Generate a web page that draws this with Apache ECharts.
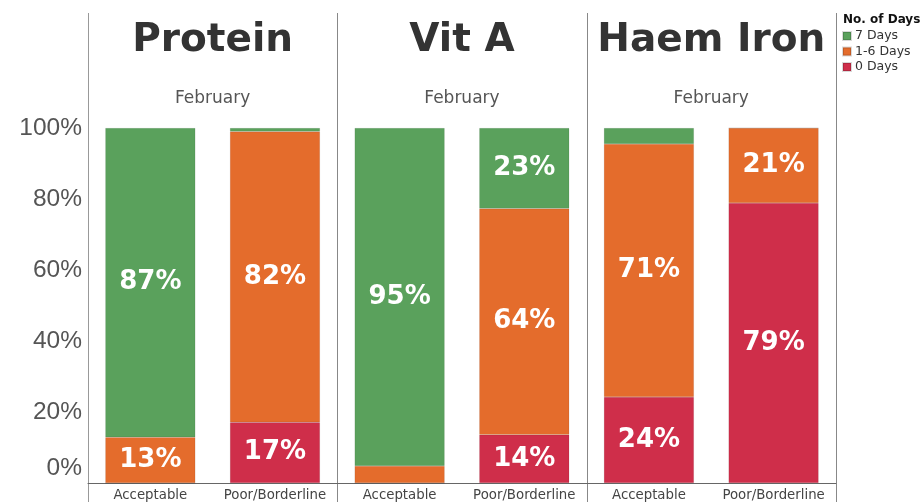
<!DOCTYPE html>
<html><head><meta charset="utf-8">
<script src="https://cdn.jsdelivr.net/npm/echarts@6/dist/echarts.min.js"></script>
<style>html,body{margin:0;padding:0;background:#fff}#c{width:924px;height:502px}</style>
</head><body><div id="c"></div>
<script>
const panels = ['Protein', 'Vit A', 'Haem Iron'];
const categories = ['Acceptable', 'Poor/Borderline'];
const month = 'February';
const seriesNames = ['0 Days', '1-6 Days', '7 Days'];
const days0 = [[0, 17.1], [0, 13.6], [24.2, 78.9]];
const days1to6 = [[12.9, 81.9], [4.8, 63.7], [71.3, 21.1]];
const days7 = [[87.1, 1.0], [95.2, 22.7], [4.5, 0]];
const yTicks = [0, 20, 40, 60, 80, 100];

const colors = {'0 Days': '#cf2e4a', '1-6 Days': '#e46c2c', '7 Days': '#5aa15c'};
const seriesData = {'0 Days': days0, '1-6 Days': days1to6, '7 Days': days7};

const chart = echarts.init(document.getElementById('c'), null, {renderer: 'canvas'});
const FONT = 'DejaVu Sans';
const gLeft = 88, pw = 249.3, gTop = 128, gH = 355;

const grids = [], xAxes = [], yAxes = [], series = [], graphics = [];
panels.forEach((p, i) => {
  grids.push({left: gLeft + pw * i, width: pw, top: gTop, height: gH});
  xAxes.push({
    type: 'category', gridIndex: i, data: categories,
    axisLine: {show: true, lineStyle: {color: '#666', width: 1}},
    axisTick: {show: false},
    axisLabel: {fontFamily: FONT, fontSize: 13.3, color: '#444', margin: 6, interval: 0}
  });
  yAxes.push({
    type: 'value', gridIndex: i, min: yTicks[0], max: yTicks[yTicks.length - 1], interval: 20,
    splitLine: {show: false},
    axisLine: {show: false}, axisTick: {show: false},
    axisLabel: i === 0 ? {
      show: true, fontFamily: 'Liberation Sans', fontSize: 24.5, color: '#555', margin: 6,
      formatter: v => v === 0 ? '{z|0%}' : '{a|' + v + '%}',
      rich: {a: {fontFamily: 'Liberation Sans', fontSize: 24.5, color: '#555'},
             z: {fontFamily: 'Liberation Sans', fontSize: 24.5, color: '#555', padding: [0, 0, 30, 0]}}
    } : {show: false}
  });
  seriesNames.forEach(n => {
    series.push({
      name: n, type: 'bar', stack: 'p' + i, xAxisIndex: i, yAxisIndex: i,
      barWidth: 90, data: seriesData[n][i],
      itemStyle: {color: colors[n], borderColor: 'rgba(0,0,0,0.15)', borderWidth: 0.5},
      label: {
        show: true, position: 'inside', color: '#fff', fontFamily: FONT, fontWeight: 'bold', fontSize: 26,
        formatter: d => d.value >= 10 ? Math.round(d.value) + '%' : ''
      }
    });
  });
  const cx = gLeft + pw * i + pw / 2;
  graphics.push({type: 'text', x: cx, y: 41, style: {text: p, fontFamily: FONT, fontWeight: 'bold', fontSize: 39, fill: '#333', align: 'center', verticalAlign: 'middle'}});
  graphics.push({type: 'text', x: cx, y: 99, style: {text: month, fontFamily: FONT, fontSize: 17, fill: '#555', align: 'center', verticalAlign: 'middle'}});
});
[0, 1, 2, 3].forEach(k => {
  const x = Math.round(gLeft + pw * k) + 0.5;
  graphics.push({type: 'line', shape: {x1: x, y1: 13, x2: x, y2: 502}, style: {stroke: k === 0 ? '#999' : '#888', lineWidth: 1}});
});
graphics.push({type: 'text', x: 843, y: 20, style: {text: 'No. of Days', fontFamily: FONT, fontWeight: 'bold', fontSize: 12, fill: '#111', verticalAlign: 'middle'}});

chart.setOption({
  animation: false,
  grid: grids, xAxis: xAxes, yAxis: yAxes, series: series,
  legend: {
    orient: 'vertical', left: 842, top: 29, padding: 0, itemWidth: 8, itemHeight: 8, itemGap: 1.5,
    icon: 'rect', selectedMode: false,
    data: ['7 Days', '1-6 Days', '0 Days'],
    textStyle: {fontFamily: FONT, fontSize: 12.5, lineHeight: 14, color: '#333', padding: [0, 0, 0, -1]}
  },
  graphic: graphics
});
</script></body></html>
